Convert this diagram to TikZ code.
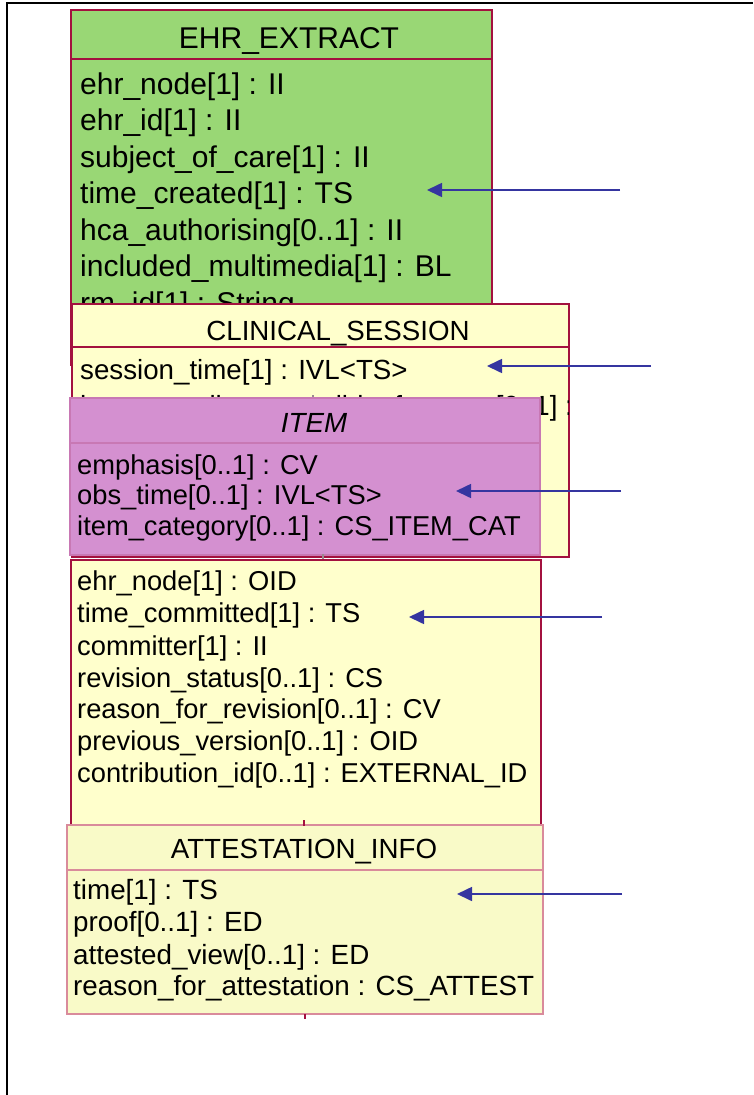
\documentclass[tikz,border=0pt]{standalone}
\usepackage{fontspec}
\setmainfont{Liberation Sans}
\usetikzlibrary{arrows.meta}
\definecolor{umlred}{HTML}{A3113F}
\definecolor{ehrgreen}{HTML}{99D775}
\definecolor{paleyellow}{HTML}{FFFFCC}
\definecolor{itempink}{HTML}{D490D0}
\definecolor{itemedge}{HTML}{C878B4}
\definecolor{attfill}{HTML}{F9FAC8}
\definecolor{attedge}{HTML}{D98B9B}
\definecolor{arrowblue}{HTML}{3535A0}
\definecolor{stubgray}{HTML}{9A8A90}

\begin{document}
\begin{tikzpicture}[x=1pt,y=-1pt,
  classbox/.style={draw=umlred, line width=2pt, anchor=north west, inner sep=0pt, outer sep=0pt},
  divider/.style={draw=umlred, line width=2pt},
  attr/.style={anchor=base west, inner sep=0pt, font=\fontsize{27.3}{30}\selectfont},
  attattr/.style={anchor=base west, inner sep=0pt, font=\fontsize{27.8}{30}\selectfont},
  bigattr/.style={anchor=base west, inner sep=0pt, font=\fontsize{30}{34}\selectfont},
  title/.style={anchor=base, inner sep=0pt, font=\fontsize{27.7}{30}\selectfont},
  bigtitle/.style={anchor=base, inner sep=0pt, font=\fontsize{30}{34}\selectfont},
  link/.style={draw=arrowblue, line width=1.6pt, -{Triangle[length=15pt,width=14pt]}},
  stub/.style={line width=1.2pt}]

\useasboundingbox (0,0) rectangle (753,1095);

% page frame (top and left rules)
\draw[line width=1.6pt, black] (7,1095) -- (7,3) -- (753,3);

% ---------------- EHR_EXTRACT ----------------
\node[classbox, fill=ehrgreen, minimum width=421pt, minimum height=355pt] (ehr) at (71,10) {};
\draw[divider] (71,59) -- (492,59);
\node[bigtitle] (ehrT) at (289,48) {EHR\_EXTRACT};
\node[bigattr] (ehrA1) at (80,94)  {ehr\_node[1] : II};
\node[bigattr] (ehrA2) at (80,130.5) {ehr\_id[1] : II};
\node[bigattr] (ehrA3) at (80,167) {subject\_of\_care[1] : II};
\node[bigattr] (ehrA4) at (80,203.5) {time\_created[1] : TS};
\node[bigattr] (ehrA5) at (80,240) {hca\_authorising[0..1] : II};
\node[bigattr] (ehrA6) at (80,276.5) {included\_multimedia[1] : BL};
\node[bigattr] (ehrA7) at (80,313) {rm\_id[1] : String};

% ---------------- CLINICAL_SESSION ----------------
\node[classbox, fill=paleyellow, minimum width=497pt, minimum height=253pt] (cs) at (72,304) {};
\draw[divider] (72,347) -- (569,347);
\node[title] (csT) at (338,340) {CLINICAL\_SESSION};
\begin{scope}
  \clip (73,348) rectangle (568,556);
  \node[title, anchor=base west] (csA1) at (80,379) {session\_time[1] : IVL<TS>};
  \node[title, anchor=base west] (csA2) at (80,415) {hca\_overall\_responsible\_for\_care[0..1] :};
\end{scope}
\draw[stub, stubgray] (313,395) -- (313,398);

% ---------------- ITEM ----------------
\node[classbox, draw=itemedge, fill=itempink, minimum width=470pt, minimum height=157pt] (item) at (70,398) {};
\draw[draw=itemedge, line width=2pt] (70,443) -- (540,443);
\node[title, font=\fontsize{27.7}{30}\selectfont\itshape] (itemT) at (314,432) {ITEM};
\node[attr] (itemA1) at (77,474) {emphasis[0..1] : CV};
\node[attr] (itemA2) at (77,504) {obs\_time[0..1] : IVL<TS>};
\node[attr] (itemA3) at (77,535) {item\_category[0..1] : CS\_ITEM\_CAT};
\draw[stub, stubgray] (323,554) -- (323,560);

% ---------------- record component attributes ----------------
\node[classbox, fill=paleyellow, minimum width=470pt, minimum height=280pt] (rc) at (71,560) {};
\node[attr] (rcA1) at (77,590) {ehr\_node[1] : OID};
\node[attr] (rcA2) at (77,622.5) {time\_committed[1] : TS};
\node[attr] (rcA3) at (77,655) {committer[1] : II};
\node[attr] (rcA4) at (77,687) {revision\_status[0..1] : CS};
\node[attr] (rcA5) at (77,718.5) {reason\_for\_revision[0..1] : CV};
\node[attr] (rcA6) at (77,750.5) {previous\_version[0..1] : OID};
\node[attr] (rcA7) at (77,782) {contribution\_id[0..1] : EXTERNAL\_ID};

% ---------------- ATTESTATION_INFO ----------------
\node[classbox, draw=attedge, fill=attfill, minimum width=476pt, minimum height=189pt] (att) at (67,825) {};
\draw[draw=attedge, line width=2pt] (67,870) -- (543,870);
\draw[stub, umlred] (304,820) -- (304,826);
\node[title] (attT) at (304,858) {ATTESTATION\_INFO};
\node[attattr] (attA1) at (73,899) {time[1] : TS};
\node[attattr] (attA2) at (73,931.5) {proof[0..1] : ED};
\node[attattr] (attA3) at (73,964) {attested\_view[0..1] : ED};
\node[attattr] (attA4) at (73,995.5) {reason\_for\_attestation : CS\_ATTEST};
\draw[stub, umlred] (305,1014) -- (305,1019);

% ---------------- pointer arrows ----------------
\coordinate (p1) at (620,190);  \coordinate (q1) at (427,190);
\coordinate (p2) at (651,366);  \coordinate (q2) at (487,366);
\coordinate (p3) at (621,491);  \coordinate (q3) at (456,491);
\coordinate (p4) at (602,617);  \coordinate (q4) at (409,617);
\coordinate (p5) at (622,894);  \coordinate (q5) at (457,894);
\draw[link] (p1) -- (q1);
\draw[link] (p2) -- (q2);
\draw[link] (p3) -- (q3);
\draw[link] (p4) -- (q4);
\draw[link] (p5) -- (q5);
\end{tikzpicture}
\end{document}
